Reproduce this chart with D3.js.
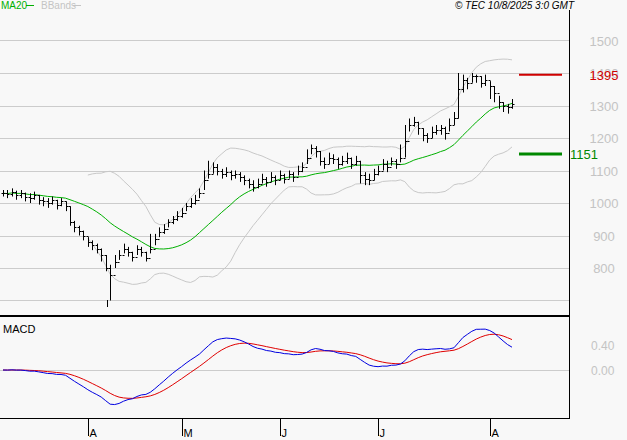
<!DOCTYPE html><html><head><meta charset="utf-8"><script src="https://cdn.jsdelivr.net/npm/d3@7"></script>
<style>body{margin:0;background:#f8f8f8}svg{display:block}</style></head><body><svg id="c" width="627" height="440"></svg>
<script>
const closes=[1030,1028,1035,1025,1030,1020,1015,1025,1010,1005,1000,1010,995,1005,990,940,925,915,900,880,870,860,840,800,780,820,840,860,850,835,860,850,830,860,890,910,920,940,950,960,970,990,1000,1010,1030,1070,1090,1110,1100,1090,1095,1085,1090,1080,1070,1060,1050,1060,1075,1065,1080,1070,1085,1075,1090,1080,1100,1110,1140,1170,1160,1130,1120,1140,1135,1120,1130,1140,1120,1130,1085,1075,1070,1090,1100,1120,1110,1130,1120,1140,1190,1240,1250,1230,1210,1200,1220,1225,1230,1215,1240,1260,1350,1380,1370,1390,1390,1370,1380,1360,1340,1310,1300,1295,1305];
const highs=[1040,1040,1045,1038,1040,1032,1030,1035,1025,1018,1015,1020,1010,1015,1005,990,945,930,915,895,885,875,860,840,810,840,855,875,865,850,870,865,850,905,905,925,935,950,960,975,985,1000,1015,1025,1045,1100,1130,1125,1120,1105,1110,1100,1100,1095,1085,1075,1070,1075,1090,1080,1095,1085,1100,1090,1100,1095,1115,1125,1165,1180,1175,1160,1140,1155,1150,1140,1145,1155,1140,1145,1130,1095,1090,1105,1115,1135,1130,1140,1135,1180,1240,1260,1265,1250,1230,1215,1235,1240,1240,1235,1260,1280,1400,1395,1385,1400,1395,1390,1395,1375,1360,1330,1310,1305,1320];
const lows=[1020,1015,1020,1010,1015,1005,1000,1010,995,990,985,995,980,990,975,930,910,900,885,865,855,845,820,790,700,800,825,845,835,820,840,835,820,845,870,895,905,925,935,945,955,975,985,995,1015,1040,1075,1090,1085,1075,1080,1070,1075,1065,1055,1045,1035,1045,1060,1050,1065,1055,1070,1060,1075,1065,1085,1095,1120,1150,1140,1115,1105,1120,1120,1105,1115,1120,1105,1115,1060,1055,1055,1070,1085,1100,1095,1115,1105,1125,1140,1220,1235,1210,1190,1185,1200,1210,1210,1195,1220,1240,1260,1340,1350,1370,1370,1355,1360,1320,1310,1290,1280,1275,1290];
const priceTicks=[800,900,1000,1100,1200,1300,1400,1500];
const macdTicks=[0,40];
const macdTickLabels=["0.00","0.40"];
const months=["A","M","J","J","A"];
const monthIdx=[19,40,62,84,109];
const resistance=1395, support=1151;

const svg=d3.select("#c");
const n=closes.length;
const x=d3.scaleLinear().domain([0,n-1]).range([3,512]);
const y=d3.scaleLinear().domain([800,1400]).range([268,73]);
const ym=d3.scaleLinear().domain([0,40]).range([370,345]);
const AX=569;
// grid
svg.selectAll(".g").data(priceTicks.filter(p=>y(p)<314)).join("line").attr("x1",0).attr("x2",AX).attr("y1",d=>Math.round(y(d))+.5).attr("y2",d=>Math.round(y(d))+.5).attr("stroke","#ccc");
svg.append("line").attr("x1",0).attr("x2",AX).attr("y1",300.5).attr("y2",300.5).attr("stroke","#ccc");
svg.selectAll(".pl").data(priceTicks).join("text").attr("x",604).attr("y",d=>y(d)+5).attr("text-anchor","middle").attr("fill","#c4c4c4").attr("font-family","Liberation Sans, Arial").attr("font-size",13).text(d=>d);
// indicators
const ma=[],up=[],lo=[];
closes.forEach((c,i)=>{const w=closes.slice(Math.max(0,i-19),i+1);const m=d3.mean(w);const s=d3.deviation(w)||0;ma.push(m);up.push(m+2*s);lo.push(m-2*s);});
const line=d3.line().x((d,i)=>x(i)).y(d=>y(d));
const lineB=d3.line().defined(d=>d[1]!=null).x(d=>x(d[0])).y(d=>y(d[1]));
const bbStart=19;
svg.append("path").attr("d",lineB(up.map((v,i)=>[i,i>=bbStart?v:null]))).attr("fill","none").attr("stroke","#c8c8c8");
svg.append("path").attr("d",lineB(lo.map((v,i)=>[i,i>=bbStart?v:null]))).attr("fill","none").attr("stroke","#c8c8c8");
svg.append("path").attr("d",line(ma)).attr("fill","none").attr("stroke","#00b000");
// bars
const g=svg.append("g").attr("stroke","#000");
closes.forEach((c,i)=>{const xi=Math.round(x(i))+.5;const o=i?closes[i-1]:c;
g.append("line").attr("x1",xi).attr("x2",xi).attr("y1",y(highs[i])).attr("y2",y(lows[i]));
g.append("line").attr("x1",xi-2).attr("x2",xi).attr("y1",Math.round(y(o))+.5).attr("y2",Math.round(y(o))+.5);
g.append("line").attr("x1",xi).attr("x2",xi+2).attr("y1",Math.round(y(c))+.5).attr("y2",Math.round(y(c))+.5);});
// levels
svg.append("line").attr("x1",519).attr("x2",562).attr("y1",y(resistance)).attr("y2",y(resistance)).attr("stroke","#d00000").attr("stroke-width",2);
svg.append("text").attr("x",604).attr("y",y(resistance)+5).attr("text-anchor","middle").attr("fill","#d00000").attr("font-family","Liberation Sans, Arial").attr("font-size",13).text(resistance);
svg.append("line").attr("x1",519).attr("x2",562).attr("y1",y(support)).attr("y2",y(support)).attr("stroke","#008800").attr("stroke-width",3);
svg.append("text").attr("x",570).attr("y",y(support)+5).attr("fill","#008800").attr("font-family","Liberation Sans, Arial").attr("font-size",13).text(support);
// MACD
const ema=(arr,p)=>{const k=2/(p+1);const out=[];arr.forEach((v,i)=>out.push(i?v*k+out[i-1]*(1-k):v));return out;};
const e12=ema(closes,12),e26=ema(closes,26);
const macd=e12.map((v,i)=>v-e26[i]);const sig=ema(macd,9);
svg.append("line").attr("x1",0).attr("x2",AX).attr("y1",370.5).attr("y2",370.5).attr("stroke","#ccc");
const lm=d3.line().x((d,i)=>x(i)).y(d=>ym(d));
svg.append("path").attr("d",lm(sig)).attr("fill","none").attr("stroke","#e00000");
svg.append("path").attr("d",lm(macd)).attr("fill","none").attr("stroke","#0000e0");
svg.selectAll(".ml").data(macdTicks).join("text").attr("x",591).attr("y",d=>ym(d)+5).attr("fill","#c4c4c4").attr("font-family","Liberation Sans, Arial").attr("font-size",12).text((d,i)=>macdTickLabels[i]);
svg.append("text").attr("x",3).attr("y",333).attr("font-family","Liberation Sans, Arial").attr("font-size",11).text("MACD");
// frames
svg.append("line").attr("x1",0).attr("x2",AX).attr("y1",316).attr("y2",316).attr("stroke","#000").attr("stroke-width",2);
svg.append("line").attr("x1",0).attr("x2",AX+.5).attr("y1",418.5).attr("y2",418.5).attr("stroke","#000");
svg.append("line").attr("x1",AX+.5).attr("x2",AX+.5).attr("y1",20).attr("y2",419).attr("stroke","#000");
svg.append("line").attr("x1",AX+.5).attr("x2",AX+.5).attr("y1",10).attr("y2",20).attr("stroke","#000");
svg.append("line").attr("x1",107.5).attr("x2",107.5).attr("y1",300).attr("y2",307).attr("stroke","#000");
// months
monthIdx.forEach((mi,k)=>{const xi=Math.round(x(mi))+.5;
svg.append("line").attr("x1",xi).attr("x2",xi).attr("y1",419).attr("y2",436).attr("stroke","#000");
svg.append("text").attr("x",xi+1).attr("y",437).attr("font-family","Liberation Sans, Arial").attr("font-size",11).text(months[k]);});
// legend
svg.append("text").attr("x",1).attr("y",9).attr("fill","#00b000").attr("font-family","Liberation Sans, Arial").attr("font-size",10).text("MA20");
svg.append("line").attr("x1",26).attr("x2",34).attr("y1",5.5).attr("y2",5.5).attr("stroke","#00b000");
svg.append("text").attr("x",41).attr("y",9).attr("fill","#c4c4c4").attr("font-family","Liberation Sans, Arial").attr("font-size",10).text("BBands");
svg.append("line").attr("x1",73).attr("x2",81).attr("y1",5.5).attr("y2",5.5).attr("stroke","#c4c4c4");
svg.append("text").attr("x",574).attr("y",9).attr("text-anchor","end").attr("font-family","Liberation Sans, Arial").attr("font-style","italic").attr("font-size",10).text("© TEC 10/8/2025 3:0 GMT");
</script></body></html>
